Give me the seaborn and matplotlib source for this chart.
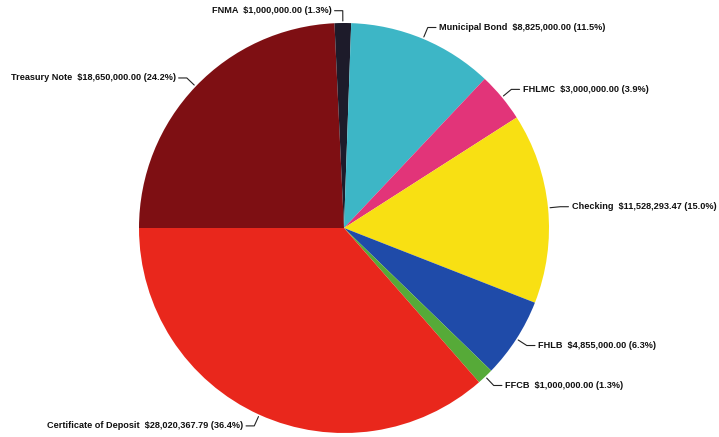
import numpy as np
import matplotlib
matplotlib.use("Agg")
import matplotlib.pyplot as plt
import seaborn as sns

# Portfolio holdings, listed clockwise starting from the 9 o'clock position
categories = ["Treasury Note", "FNMA", "Municipal Bond", "FHLMC",
              "Checking", "FHLB", "FFCB", "Certificate of Deposit"]
amounts = [18650000.00, 1000000.00, 8825000.00, 3000000.00,
           11528293.47, 4855000.00, 1000000.00, 28020367.79]
amount_labels = ["$18,650,000.00", "$1,000,000.00", "$8,825,000.00", "$3,000,000.00",
                 "$11,528,293.47", "$4,855,000.00", "$1,000,000.00", "$28,020,367.79"]
pct_labels = ["24.2%", "1.3%", "11.5%", "3.9%", "15.0%", "6.3%", "1.3%", "36.4%"]

colors = ["#7e0f13", "#1d1b2a", "#3db6c6", "#e23479", "#f8e013",
          "#1f4ba9", "#56aa38", "#e9271c"]

sns.set_theme(style="white")
plt.rcParams["font.family"] = ["Liberation Sans", "DejaVu Sans"]

W, H, DPI = 719, 437, 100
fig = plt.figure(figsize=(W / DPI, H / DPI), dpi=DPI)
ax = fig.add_axes([0, 0, 1, 1])

# pie of radius 1 centred at (344, 228) px with 205 px per data unit
R_PX, CX, CY = 205.0, 344.0, 228.0
ax.set_xlim(-CX / R_PX, (W - CX) / R_PX)
ax.set_ylim(-(H - CY) / R_PX, CY / R_PX)
ax.set_aspect("auto")
ax.axis("off")

wedges, _ = ax.pie(amounts, colors=colors, startangle=180, counterclock=False,
                   radius=1.0, center=(0, 0), frame=True,
                   wedgeprops=dict(linewidth=0, edgecolor="none"))
ax.set_xlim(-CX / R_PX, (W - CX) / R_PX)
ax.set_ylim(-(H - CY) / R_PX, CY / R_PX)
ax.axis("off")

for w, name, amt, pct in zip(wedges, categories, amount_labels, pct_labels):
    mid = np.deg2rad((w.theta1 + w.theta2) / 2.0)
    c, s = np.cos(mid), np.sin(mid)
    side = 1 if c >= 0 else -1
    x0, y0 = 1.01 * c, 1.01 * s
    x1, y1 = 1.06 * c, 1.06 * s
    x2 = x1 + side * 0.04
    ax.plot([x0, x1, x2], [y0, y1, y1], color="#222222", lw=0.8,
            solid_capstyle="round")
    ax.text(x2 + side * 0.015, y1, f"{name}  {amt} ({pct})",
            ha="left" if side > 0 else "right", va="center",
            fontsize=6.6, fontweight="bold", color="#111111")

fig.savefig("out.png", dpi=DPI)
